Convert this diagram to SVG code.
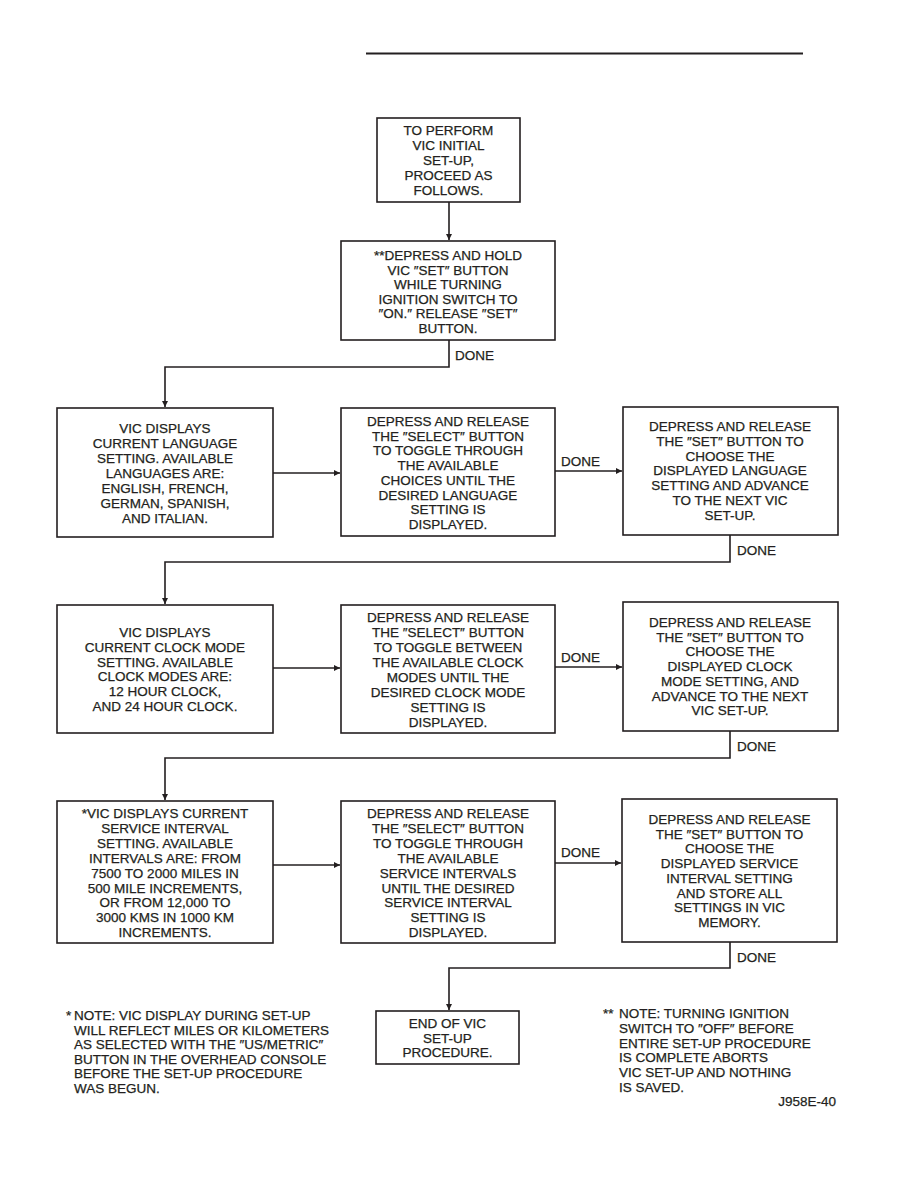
<svg xmlns="http://www.w3.org/2000/svg" width="918" height="1188" viewBox="0 0 918 1188">
<defs>
<marker id="ah" viewBox="0 0 10 10" refX="10" refY="5" markerWidth="9" markerHeight="6" markerUnits="userSpaceOnUse" orient="auto">
<path d="M0,0 L10,5 L0,10 z" fill="#231f20"/>
</marker>
</defs>
<style>
.box{fill:#fff;stroke:#231f20;stroke-width:1.6}
.ln{fill:none;stroke:#231f20;stroke-width:1.6}
text{font-family:"Liberation Sans",Arial,sans-serif;font-size:13.5px;fill:#231f20;stroke:#231f20;stroke-width:0.25}
.c{text-anchor:middle}
</style>
<rect width="918" height="1188" fill="#fff"/>
<line x1="366" y1="53.5" x2="803" y2="53.5" stroke="#231f20" stroke-width="2.2"/>

<g id="connectors">
<path class="ln" d="M449,202 V240" marker-end="url(#ah)"/>
<path class="ln" d="M449,340 V367 H165 V407" marker-end="url(#ah)"/>
<path class="ln" d="M273,473 H340" marker-end="url(#ah)"/>
<path class="ln" d="M555,471 H622" marker-end="url(#ah)"/>
<path class="ln" d="M730,535 V562 H165 V604" marker-end="url(#ah)"/>
<path class="ln" d="M273,668 H340" marker-end="url(#ah)"/>
<path class="ln" d="M555,667 H622" marker-end="url(#ah)"/>
<path class="ln" d="M730,731 V758 H165 V800" marker-end="url(#ah)"/>
<path class="ln" d="M273,865 H340" marker-end="url(#ah)"/>
<path class="ln" d="M555,863 H621" marker-end="url(#ah)"/>
<path class="ln" d="M730,942 V968 H449 V1010" marker-end="url(#ah)"/>
<text x="455" y="360">DONE</text>
<text x="561" y="466">DONE</text>
<text x="737" y="555">DONE</text>
<text x="561" y="662">DONE</text>
<text x="737" y="751">DONE</text>
<text x="561" y="857">DONE</text>
<text x="737" y="962">DONE</text>
</g>

<g id="start">
<rect class="box" x="377" y="118" width="143" height="84"/>
<text class="c" x="448.5" y="135">TO PERFORM</text>
<text class="c" x="448.5" y="150">VIC INITIAL</text>
<text class="c" x="448.5" y="165">SET-UP,</text>
<text class="c" x="448.5" y="180">PROCEED AS</text>
<text class="c" x="448.5" y="195">FOLLOWS.</text>
</g>

<g id="hold">
<rect class="box" x="341" y="241" width="214" height="99"/>
<text class="c" x="448" y="260">**DEPRESS AND HOLD</text>
<text class="c" x="448" y="274.6">VIC ″SET″ BUTTON</text>
<text class="c" x="448" y="289.2">WHILE TURNING</text>
<text class="c" x="448" y="303.8">IGNITION SWITCH TO</text>
<text class="c" x="448" y="318.4">″ON.″ RELEASE ″SET″</text>
<text class="c" x="448" y="333">BUTTON.</text>
</g>

<g id="lang-display">
<rect class="box" x="57" y="408" width="216" height="129"/>
<text class="c" x="165" y="433">VIC DISPLAYS</text>
<text class="c" x="165" y="448">CURRENT LANGUAGE</text>
<text class="c" x="165" y="463">SETTING. AVAILABLE</text>
<text class="c" x="165" y="478">LANGUAGES ARE:</text>
<text class="c" x="165" y="493">ENGLISH, FRENCH,</text>
<text class="c" x="165" y="508">GERMAN, SPANISH,</text>
<text class="c" x="165" y="523">AND ITALIAN.</text>
</g>

<g id="lang-select">
<rect class="box" x="341" y="408" width="214" height="128"/>
<text class="c" x="448" y="426">DEPRESS AND RELEASE</text>
<text class="c" x="448" y="440.7">THE ″SELECT″ BUTTON</text>
<text class="c" x="448" y="455.4">TO TOGGLE THROUGH</text>
<text class="c" x="448" y="470.1">THE AVAILABLE</text>
<text class="c" x="448" y="484.8">CHOICES UNTIL THE</text>
<text class="c" x="448" y="499.5">DESIRED LANGUAGE</text>
<text class="c" x="448" y="514.2">SETTING IS</text>
<text class="c" x="448" y="529">DISPLAYED.</text>
</g>

<g id="lang-set">
<rect class="box" x="623" y="407" width="215" height="128"/>
<text class="c" x="730" y="431">DEPRESS AND RELEASE</text>
<text class="c" x="730" y="445.8">THE ″SET″ BUTTON TO</text>
<text class="c" x="730" y="460.6">CHOOSE THE</text>
<text class="c" x="730" y="475.4">DISPLAYED LANGUAGE</text>
<text class="c" x="730" y="490.2">SETTING AND ADVANCE</text>
<text class="c" x="730" y="505">TO THE NEXT VIC</text>
<text class="c" x="730" y="520">SET-UP.</text>
</g>

<g id="clock-display">
<rect class="box" x="57" y="605" width="216" height="128"/>
<text class="c" x="165" y="637">VIC DISPLAYS</text>
<text class="c" x="165" y="651.8">CURRENT CLOCK MODE</text>
<text class="c" x="165" y="666.6">SETTING. AVAILABLE</text>
<text class="c" x="165" y="681.4">CLOCK MODES ARE:</text>
<text class="c" x="165" y="696.2">12 HOUR CLOCK,</text>
<text class="c" x="165" y="711">AND 24 HOUR CLOCK.</text>
</g>

<g id="clock-select">
<rect class="box" x="341" y="605" width="214" height="128"/>
<text class="c" x="448" y="622">DEPRESS AND RELEASE</text>
<text class="c" x="448" y="637">THE ″SELECT″ BUTTON</text>
<text class="c" x="448" y="652">TO TOGGLE BETWEEN</text>
<text class="c" x="448" y="667">THE AVAILABLE CLOCK</text>
<text class="c" x="448" y="682">MODES UNTIL THE</text>
<text class="c" x="448" y="697">DESIRED CLOCK MODE</text>
<text class="c" x="448" y="712">SETTING IS</text>
<text class="c" x="448" y="727">DISPLAYED.</text>
</g>

<g id="clock-set">
<rect class="box" x="623" y="602" width="215" height="129"/>
<text class="c" x="730" y="627">DEPRESS AND RELEASE</text>
<text class="c" x="730" y="641.7">THE ″SET″ BUTTON TO</text>
<text class="c" x="730" y="656.4">CHOOSE THE</text>
<text class="c" x="730" y="671.1">DISPLAYED CLOCK</text>
<text class="c" x="730" y="685.8">MODE SETTING, AND</text>
<text class="c" x="730" y="700.5">ADVANCE TO THE NEXT</text>
<text class="c" x="730" y="715.2">VIC SET-UP.</text>
</g>

<g id="service-display">
<rect class="box" x="57" y="801" width="216" height="142"/>
<text class="c" x="165" y="818">*VIC DISPLAYS CURRENT</text>
<text class="c" x="165" y="832.9">SERVICE INTERVAL</text>
<text class="c" x="165" y="847.8">SETTING. AVAILABLE</text>
<text class="c" x="165" y="862.7">INTERVALS ARE: FROM</text>
<text class="c" x="165" y="877.6">7500 TO 2000 MILES IN</text>
<text class="c" x="165" y="892.5">500 MILE INCREMENTS,</text>
<text class="c" x="165" y="907.4">OR FROM 12,000 TO</text>
<text class="c" x="165" y="922.3">3000 KMS IN 1000 KM</text>
<text class="c" x="165" y="937.2">INCREMENTS.</text>
</g>

<g id="service-select">
<rect class="box" x="341" y="801" width="214" height="142"/>
<text class="c" x="448" y="818">DEPRESS AND RELEASE</text>
<text class="c" x="448" y="832.9">THE ″SELECT″ BUTTON</text>
<text class="c" x="448" y="847.8">TO TOGGLE THROUGH</text>
<text class="c" x="448" y="862.7">THE AVAILABLE</text>
<text class="c" x="448" y="877.6">SERVICE INTERVALS</text>
<text class="c" x="448" y="892.5">UNTIL THE DESIRED</text>
<text class="c" x="448" y="907.4">SERVICE INTERVAL</text>
<text class="c" x="448" y="922.3">SETTING IS</text>
<text class="c" x="448" y="937.2">DISPLAYED.</text>
</g>

<g id="service-set">
<rect class="box" x="622" y="799" width="215" height="143"/>
<text class="c" x="729.5" y="824">DEPRESS AND RELEASE</text>
<text class="c" x="729.5" y="838.7">THE ″SET″ BUTTON TO</text>
<text class="c" x="729.5" y="853.4">CHOOSE THE</text>
<text class="c" x="729.5" y="868.1">DISPLAYED SERVICE</text>
<text class="c" x="729.5" y="882.8">INTERVAL SETTING</text>
<text class="c" x="729.5" y="897.5">AND STORE ALL</text>
<text class="c" x="729.5" y="912.2">SETTINGS IN VIC</text>
<text class="c" x="729.5" y="927">MEMORY.</text>
</g>

<g id="end">
<rect class="box" x="376" y="1011" width="143" height="53"/>
<text class="c" x="447.5" y="1028">END OF VIC</text>
<text class="c" x="447.5" y="1042.5">SET-UP</text>
<text class="c" x="447.5" y="1057">PROCEDURE.</text>
</g>

<g id="note-left">
<text x="66" y="1020">*</text>
<text x="74" y="1020">NOTE: VIC DISPLAY DURING SET-UP</text>
<text x="74" y="1034.6">WILL REFLECT MILES OR KILOMETERS</text>
<text x="74" y="1049.2">AS SELECTED WITH THE ″US/METRIC″</text>
<text x="74" y="1063.8">BUTTON IN THE OVERHEAD CONSOLE</text>
<text x="74" y="1078.4">BEFORE THE SET-UP PROCEDURE</text>
<text x="74" y="1093">WAS BEGUN.</text>
</g>

<g id="note-right">
<text x="603" y="1018">**</text>
<text x="619" y="1018">NOTE: TURNING IGNITION</text>
<text x="619" y="1032.8">SWITCH TO ″OFF″ BEFORE</text>
<text x="619" y="1047.6">ENTIRE SET-UP PROCEDURE</text>
<text x="619" y="1062.4">IS COMPLETE ABORTS</text>
<text x="619" y="1077.2">VIC SET-UP AND NOTHING</text>
<text x="619" y="1092">IS SAVED.</text>
</g>

<text x="836" y="1106" text-anchor="end">J958E-40</text>
</svg>
